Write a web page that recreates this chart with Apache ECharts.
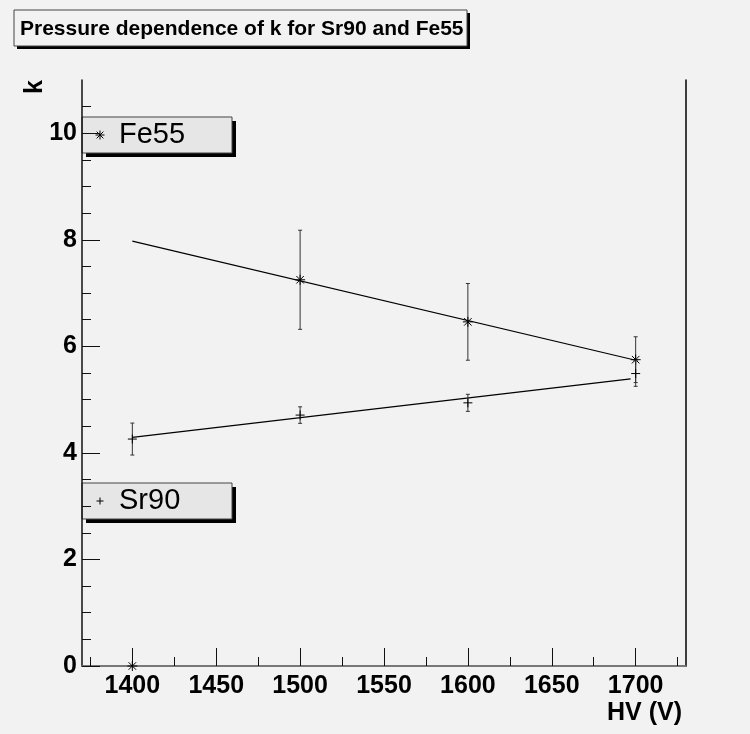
<!DOCTYPE html>
<html>
<head>
<meta charset="utf-8">
<script src="https://cdn.jsdelivr.net/npm/echarts@6/dist/echarts.min.js"></script>
<style>
html,body{margin:0;padding:0;background:#f2f2f2;}
#chart{width:750px;height:734px;}
</style>
</head>
<body>
<div id="chart"></div>
<script>
// ---- data ----
const hvValues = [1400, 1500, 1600, 1700];
const sr90K = [4.26, 4.71, 4.94, 5.49];
const sr90Err = [0.30, 0.155, 0.16, 0.24];
const fe55K = [0, 7.25, 6.46, 5.75];
const fe55Err = [0, 0.93, 0.72, 0.43];
const fe55FitHV = [1400, 1700];
const fe55FitK = [7.975, 5.74];
const sr90FitHV = [1400, 1697];
const sr90FitK = [4.29, 5.39];
const xTickLabels = [1400, 1450, 1500, 1550, 1600, 1650, 1700];
const xMinorTicks = [1375, 1425, 1475, 1525, 1575, 1625, 1675, 1725];
const yTickLabels = [0, 2, 4, 6, 8, 10];
const yMinorTicks = [0.5, 1, 1.5, 2.5, 3, 3.5, 4.5, 5, 5.5, 6.5, 7, 7.5, 8.5, 9, 9.5, 10.5];
const titleText = 'Pressure dependence of k for Sr90 and Fe55';
const xTitle = 'HV (V)';
const yTitle = 'k';
const legendNames = ['Fe55', 'Sr90'];

const FONT = '"Liberation Sans", Arial, Helvetica, sans-serif';

function markerShapes(kind, cx, cy, h) {
  const out = [];
  const ln = (x1, y1, x2, y2) => out.push({
    type: 'line', shape: {x1, y1, x2, y2}, style: {stroke: '#000', lineWidth: 1}
  });
  ln(cx - h, cy, cx + h, cy);
  ln(cx, cy - h, cx, cy + h);
  if (kind === 'star') {
    const d = h * 0.75;
    ln(cx - d, cy - d, cx + d, cy + d);
    ln(cx - d, cy + d, cx + d, cy - d);
  }
  return out;
}

function errRender(kind) {
  return function (params, api) {
    const x = api.value(0), y = api.value(1), e = api.value(2);
    const p = api.coord([x, y]);
    const children = [];
    if (e > 0) {
      const t = api.coord([x, y + e]);
      const b = api.coord([x, y - e]);
      const st = {stroke: '#333', lineWidth: 1};
      children.push({type: 'line', shape: {x1: p[0], y1: t[1], x2: p[0], y2: b[1]}, style: st});
      children.push({type: 'line', shape: {x1: p[0] - 2, y1: t[1], x2: p[0] + 2, y2: t[1]}, style: st});
      children.push({type: 'line', shape: {x1: p[0] - 2, y1: b[1], x2: p[0] + 2, y2: b[1]}, style: st});
    }
    return {type: 'group', children: children.concat(markerShapes(kind, p[0], p[1], kind === 'star' ? 5 : 4.5))};
  };
}

const fe55Data = hvValues.map((v, i) => [v, fe55K[i], fe55Err[i]]);
const sr90Data = hvValues.map((v, i) => [v, sr90K[i], sr90Err[i]]);

const chart = echarts.init(document.getElementById('chart'), null, {renderer: 'canvas'});

const xBase = {type: 'value', min: 1370, max: 1730, gridIndex: 0, splitLine: {show: false}};
const yBase = {type: 'value', min: 0, max: 11, gridIndex: 0, splitLine: {show: false}};

function legendBox(y, name, kind) {
  return {
    type: 'group',
    children: [
      {type: 'rect', shape: {x: 86, y: y + 4, width: 150, height: 36}, style: {fill: '#000'}},
      {type: 'rect', shape: {x: 82, y: y, width: 150, height: 36}, style: {fill: '#e6e6e6', stroke: '#444', lineWidth: 1}},
      {type: 'group', children: markerShapes(kind, 100, y + 18, kind === 'star' ? 4.5 : 3.5)},
      {type: 'text', style: {text: name, x: 119, y: y + 18, fontSize: 29, fontFamily: FONT, fill: '#000', textAlign: 'left', textVerticalAlign: 'middle'}}
    ]
  };
}

chart.setOption({
  backgroundColor: '#f2f2f2',
  animation: false,
  grid: {left: 82, right: 64, top: 80, bottom: 68, containLabel: false},
  xAxis: [
    Object.assign({}, xBase, {
      position: 'bottom',
      axisLine: {show: true, lineStyle: {color: '#111', width: 1.5}},
      axisTick: {show: true, inside: true, length: 18, customValues: xTickLabels, lineStyle: {color: '#111', width: 1}},
      axisLabel: {show: true, customValues: xTickLabels, formatter: v => String(v), margin: 8, fontSize: 25, fontWeight: 'bold', fontFamily: FONT, color: '#000', hideOverlap: false}
    }),
    Object.assign({}, xBase, {
      position: 'bottom',
      axisLine: {show: false},
      axisTick: {show: true, inside: true, length: 9, customValues: xMinorTicks, lineStyle: {color: '#111', width: 1}},
      axisLabel: {show: false}
    }),
    Object.assign({}, xBase, {
      position: 'top',
      axisLine: {show: true, lineStyle: {color: '#888', width: 1.5}},
      axisTick: {show: false},
      axisLabel: {show: false}
    })
  ],
  yAxis: [
    Object.assign({}, yBase, {
      position: 'left',
      axisLine: {show: true, lineStyle: {color: '#111', width: 1.5}},
      axisTick: {show: true, inside: true, length: 18, customValues: yTickLabels, lineStyle: {color: '#111', width: 1}},
      axisLabel: {show: true, customValues: yTickLabels, formatter: v => String(v), margin: 5, fontSize: 25, fontWeight: 'bold', fontFamily: FONT, color: '#000', hideOverlap: false}
    }),
    Object.assign({}, yBase, {
      position: 'left',
      axisLine: {show: false},
      axisTick: {show: true, inside: true, length: 9, customValues: yMinorTicks, lineStyle: {color: '#111', width: 1}},
      axisLabel: {show: false}
    }),
    Object.assign({}, yBase, {
      position: 'right',
      axisLine: {show: true, lineStyle: {color: '#000', width: 1.5}},
      axisTick: {show: false},
      axisLabel: {show: false}
    })
  ],
  series: [
    {
      type: 'line', name: 'Fe55 fit', data: fe55FitHV.map((v, i) => [v, fe55FitK[i]]),
      showSymbol: false, symbol: 'none', lineStyle: {color: '#000', width: 1.2}, z: 2, silent: true
    },
    {
      type: 'line', name: 'Sr90 fit', data: sr90FitHV.map((v, i) => [v, sr90FitK[i]]),
      showSymbol: false, symbol: 'none', lineStyle: {color: '#000', width: 1.2}, z: 2, silent: true
    },
    {
      type: 'custom', name: legendNames[0], data: fe55Data, renderItem: errRender('star'),
      encode: {x: 0, y: 1}, clip: false, z: 3, silent: true
    },
    {
      type: 'custom', name: legendNames[1], data: sr90Data, renderItem: errRender('plus'),
      encode: {x: 0, y: 1}, clip: false, z: 3, silent: true
    }
  ],
  graphic: [
    {
      type: 'group',
      children: [
        {type: 'rect', shape: {x: 17, y: 13, width: 453, height: 36}, style: {fill: '#000'}},
        {type: 'rect', shape: {x: 14, y: 10, width: 453, height: 36}, style: {fill: '#f2f2f2', stroke: '#444', lineWidth: 1}},
        {type: 'text', style: {text: titleText, x: 20, y: 29, fontSize: 21, fontWeight: 'bold', fontFamily: FONT, fill: '#000', textAlign: 'left', textVerticalAlign: 'middle'}}
      ]
    },
    legendBox(117, legendNames[0], 'star'),
    legendBox(483, legendNames[1], 'plus'),
    {
      type: 'text', x: 35, y: 80, rotation: Math.PI / 2,
      style: {text: yTitle, x: 0, y: 0, fontSize: 25, fontWeight: 'bold', fontFamily: FONT, fill: '#000', textAlign: 'right', textVerticalAlign: 'middle'}
    },
    {
      type: 'text',
      style: {text: xTitle, x: 682, y: 713, fontSize: 25, fontWeight: 'bold', fontFamily: FONT, fill: '#000', textAlign: 'right', textVerticalAlign: 'middle'}
    }
  ]
});
</script>
</body>
</html>
